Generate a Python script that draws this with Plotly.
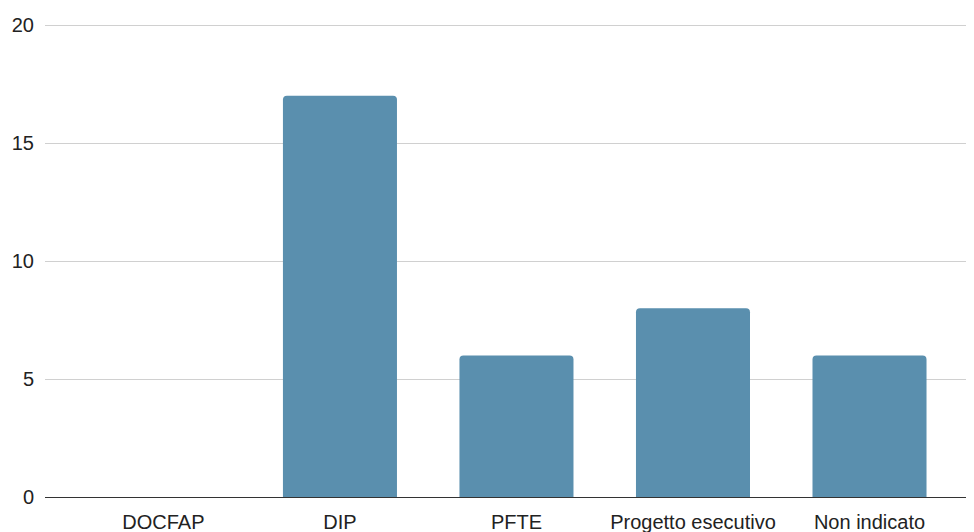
import plotly.graph_objects as go

categories = ["DOCFAP", "DIP", "PFTE", "Progetto esecutivo", "Non indicato"]
values = [0, 17, 6, 8, 6]
y_ticks = [0, 5, 10, 15, 20]

fig = go.Figure(
    go.Bar(
        x=categories,
        y=values,
        marker=dict(color="#5a8fae", cornerradius=4, line=dict(width=0)),
        hoverinfo="x+y",
    )
)

fig.update_layout(
    width=966,
    height=524,
    margin=dict(l=37, r=0, t=10, b=35),
    paper_bgcolor="white",
    plot_bgcolor="white",
    bargap=0.354,
    showlegend=False,
    font=dict(family="Liberation Sans, Arial, sans-serif", size=20, color="#222222"),
)

fig.update_xaxes(
    type="category",
    range=[-0.671, 4.592],
    showgrid=False,
    showline=False,
    zeroline=False,
    ticks="",
    ticklabelstandoff=11,
    tickfont=dict(size=20, color="#222222"),
)

fig.update_yaxes(
    range=[0, 20.3],
    tickvals=y_ticks,
    showgrid=True,
    gridcolor="#d0d0d0",
    gridwidth=1,
    zeroline=True,
    zerolinecolor="#333333",
    zerolinewidth=1,
    showline=False,
    ticks="",
    ticklabelstandoff=10,
    tickfont=dict(size=20, color="#222222"),
)

fig.write_html("out.html")
